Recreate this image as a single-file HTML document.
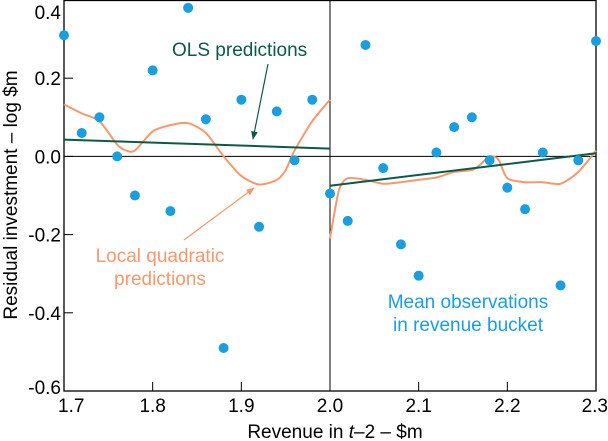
<!DOCTYPE html>
<html><head><meta charset="utf-8"><style>
body{margin:0;background:#fff;}
svg{display:block;font-family:"Liberation Sans",Arial,sans-serif;}
</style></head><body>
<svg id="chart" width="608" height="441">
<defs>
<marker id="ag" viewBox="0 0 10 10" refX="9" refY="5" markerWidth="7" markerHeight="7" orient="auto"><path d="M0,1 L10,5 L0,9 z" fill="#0b5a48"/></marker>
<marker id="ao" viewBox="0 0 10 10" refX="9" refY="5" markerWidth="7" markerHeight="7" orient="auto"><path d="M0,1 L10,5 L0,9 z" fill="#f7986d"/></marker>
</defs>
<g id="plot"></g>
<text x="172" y="56" fill="#0b5a48" font-size="19">OLS predictions</text>
<line x1="268" y1="64" x2="253" y2="139" stroke="#0b5a48" stroke-width="1.2" marker-end="url(#ag)"/>
<text x="160" y="262" fill="#f7986d" font-size="19" text-anchor="middle"><tspan x="160">Local quadratic</tspan><tspan x="160" dy="23">predictions</tspan></text>
<line x1="184" y1="240" x2="254" y2="188" stroke="#f7986d" stroke-width="1.2" marker-end="url(#ao)"/>
<text x="468" y="308" fill="#1a9ee0" font-size="19" text-anchor="middle"><tspan x="468">Mean observations</tspan><tspan x="468" dy="23">in revenue bucket</tspan></text>
<text x="335" y="438" font-size="19" text-anchor="middle">Revenue in <tspan font-style="italic">t</tspan>–2 – $m</text>
<text transform="translate(17,195) rotate(-90)" font-size="19" text-anchor="middle">Residual investment – log $m</text>
</svg>
<script>
const dotX=[1.70,1.72,1.74,1.76,1.78,1.80,1.82,1.84,1.86,1.88,1.90,1.92,1.94,1.96,1.98,2.00,2.02,2.04,2.06,2.08,2.10,2.12,2.14,2.16,2.18,2.20,2.22,2.24,2.26,2.28,2.30];
const dotY=[0.31,0.06,0.10,0.00,-0.10,0.22,-0.14,0.38,0.095,-0.49,0.145,-0.18,0.115,-0.01,0.145,-0.095,-0.165,0.285,-0.03,-0.225,-0.305,0.01,0.075,0.10,-0.01,-0.08,-0.135,0.01,-0.33,-0.01,0.295];
const olsLeftX=[1.7,2.0], olsLeftY=[0.043,0.02];
const olsRightX=[2.0,2.3], olsRightY=[-0.075,0.008];
const lqLeftX=[1.70,1.72,1.74,1.76,1.77,1.78,1.80,1.82,1.84,1.86,1.88,1.90,1.92,1.94,1.95,1.96,1.98,2.00];
const lqLeftY=[0.133,0.11,0.09,0.03,0.015,0.015,0.064,0.08,0.085,0.06,0.0,-0.05,-0.072,-0.06,-0.035,0.015,0.09,0.145];
const lqRightX=[2.00,2.01,2.02,2.04,2.06,2.08,2.10,2.12,2.14,2.16,2.17,2.18,2.19,2.20,2.22,2.24,2.26,2.28,2.30];
const lqRightY=[-0.21,-0.087,-0.056,-0.06,-0.07,-0.066,-0.06,-0.054,-0.04,-0.035,-0.02,0.0,-0.008,-0.056,-0.066,-0.066,-0.07,-0.04,0.015];
const xTicks=[1.7,1.8,1.9,2.0,2.1,2.2,2.3];
const xTickLabels=["1.7","1.8","1.9","2.0","2.1","2.2","2.3"];
const yTicks=[0.4,0.2,0.0,-0.2,-0.4,-0.6];
const yTickLabels=["0.4","0.2","0.0","-0.2","-0.4","-0.6"];
const L=64,R=596,T=0,B=391;
const xs=v=>L+(v-1.7)/0.6*(R-L);
const ys=v=>T+(0.4-v)/1.0*(B-T);
const NS="http://www.w3.org/2000/svg";
const g=document.getElementById('plot');
function mk(t,a){const e=document.createElementNS(NS,t);for(const k in a)e.setAttribute(k,a[k]);g.appendChild(e);return e;}
let e;
e=mk('rect',{x:L,y:T+0.5,width:R-L,height:B-T-0.5,fill:'none',stroke:'#000','stroke-width':1.3});


e=mk('line',{x1:L,x2:R,y1:ys(0),y2:ys(0),stroke:'#000','stroke-width':1});


e=mk('line',{x1:xs(2.0),x2:xs(2.0),y1:T,y2:B,stroke:'#000','stroke-width':1});


xTicks.forEach((v,i)=>{
 e=mk('line',{x1:xs(v),x2:xs(v),y1:B,y2:B-9,stroke:'#000','stroke-width':1});
 
 
 let anchor=i==0?'start':(i==xTicks.length-1?'end':'middle');
 let xx=i==0?xs(v)-6:(i==xTicks.length-1?xs(v)+12:xs(v));
 e=mk('text',{x:xx,y:B+21,'font-size':19,'text-anchor':anchor});
 e.textContent=xTickLabels[i];
 
 
});
yTicks.forEach((v,i)=>{
 e=mk('line',{x1:L,x2:L+9,y1:ys(v),y2:ys(v),stroke:'#000','stroke-width':1});
 
 
 let yy=i==0?ys(v)+19:ys(v)+7;
 if(i==yTicks.length-1)yy=ys(v)+3;
 e=mk('text',{x:L-3,y:yy,'font-size':19,'text-anchor':'end'});
 e.textContent=yTickLabels[i];
 
 
});
function smooth(X,Y){let p=X.map((x,i)=>[xs(x),ys(Y[i])]);let d='M'+p[0][0]+','+p[0][1];
 for(let i=0;i<p.length-1;i++){const p0=p[i-1]||p[i],p1=p[i],p2=p[i+1],p3=p[i+2]||p2;
 d+=` C${p1[0]+(p2[0]-p0[0])/8},${p1[1]+(p2[1]-p0[1])/8} ${p2[0]-(p3[0]-p1[0])/8},${p2[1]-(p3[1]-p1[1])/8} ${p2[0]},${p2[1]}`;}return d;}
e=mk('path',{d:smooth(lqLeftX,lqLeftY),fill:'none',stroke:'#f7986d','stroke-width':2});


e=mk('path',{d:smooth(lqRightX,lqRightY),fill:'none',stroke:'#f7986d','stroke-width':2});


e=mk('line',{x1:xs(olsLeftX[0]),y1:ys(olsLeftY[0]),x2:xs(olsLeftX[1]),y2:ys(olsLeftY[1]),stroke:'#0b5a48','stroke-width':2});


e=mk('line',{x1:xs(olsRightX[0]),y1:ys(olsRightY[0]),x2:xs(olsRightX[1]),y2:ys(olsRightY[1]),stroke:'#0b5a48','stroke-width':2});


dotX.forEach((x,i)=>{
 e=mk('circle',{cx:xs(x),cy:ys(dotY[i]),r:5,fill:'#1a9ee0'});
 
 
});
</script>
</body></html>
